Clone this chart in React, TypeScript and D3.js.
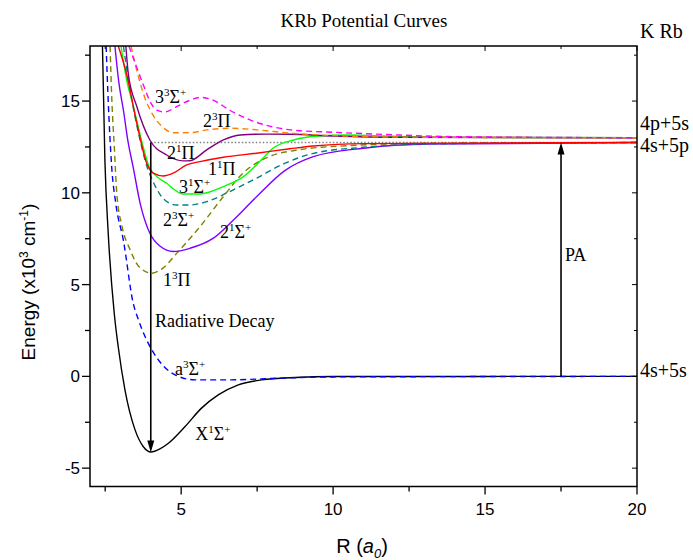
import React from "react";
import * as d3 from "d3";

// potential curves, [R (a0), E (10^3 cm^-1)]
const X1Sigma: [number, number][] = [
  [2.41, 18], [2.49, 11.8], [2.6, 7.8], [2.8, 3.4], [2.93, 1.6], [3.15, -0.73], [3.48, -2.9],
  [3.75, -3.82], [4.01, -4.12], [4.3, -3.95], [4.58, -3.64], [5.13, -2.73], [5.67, -1.73],
  [6.22, -1.01], [6.88, -0.46], [7.65, -0.19], [8.75, -0.06], [10, -0.01], [20, 0],
];
const a3Sigma: [number, number][] = [
  [2.53, 18], [2.6, 15], [2.71, 11.5], [2.85, 9.4], [3.1, 7.4], [3.42, 4.0], [3.59, 3.1],
  [3.86, 2.0], [4.25, 0.9], [4.8, 0.08], [5.46, -0.19], [6.55, -0.19], [8.2, -0.1],
  [10, -0.03], [20, 0],
];
const b3Pi: [number, number][] = [
  [2.66, 18], [2.72, 15], [2.8, 12.5], [2.88, 10], [3.05, 8.2], [3.32, 6.9], [3.6, 6.0],
  [4.03, 5.62], [4.4, 5.9], [4.85, 6.7], [5.62, 8.16], [6.39, 9.8], [7.05, 11.1],
  [7.8, 11.9], [8.9, 12.35], [10.5, 12.57], [13, 12.7], [20, 12.74],
];
const A1Sigma: [number, number][] = [
  [2.82, 18], [2.95, 16], [3.1, 14.5], [3.25, 12.8], [3.42, 11.4], [3.65, 9.43], [3.97, 7.8],
  [4.3, 7.1], [4.74, 6.8], [5.29, 6.98], [6.06, 7.53], [6.72, 8.52], [7.48, 9.79],
  [8.4, 11.2], [9.35, 11.97], [11.0, 12.43], [13.2, 12.66], [20, 12.74],
];
const c3Sigma: [number, number][] = [
  [3.1, 18], [3.3, 15.8], [3.5, 14.0], [3.7, 12.5], [3.9, 11.3], [4.05, 10.7], [4.2, 10.2],
  [4.4, 9.7], [4.85, 9.34], [5.29, 9.34], [5.84, 9.52], [6.6, 10.07], [7.48, 10.8],
  [8.4, 11.6], [9.35, 12.15], [11, 12.48], [13, 12.66], [20, 12.74],
];
const Sigma31: [number, number][] = [
  [3.02, 18], [3.2, 16.2], [3.43, 14.7], [3.75, 12.5], [3.97, 11.34], [4.52, 10.52],
  [5.07, 9.94], [5.62, 9.94], [6.39, 10.34], [7.05, 10.88], [7.7, 11.9], [8.0, 12.4],
  [8.7, 12.88], [9.5, 13.1], [10.5, 13.15], [12, 13.08], [14, 13.02], [20, 13.0],
];
const Pi11: [number, number][] = [
  [2.93, 18], [3.2, 16.5], [3.54, 13.79], [3.87, 11.6], [4.08, 11.07], [4.41, 10.92],
  [4.74, 11.07], [5.18, 11.52], [5.62, 11.7], [6.39, 11.94], [7.48, 12.16], [8.58, 12.4],
  [9.35, 12.55], [11, 12.68], [20, 12.74],
];
const Pi21: [number, number][] = [
  [3.18, 18], [3.26, 16.5], [3.54, 14.7], [3.97, 12.88], [4.52, 12.06], [5.07, 11.74],
  [5.29, 11.75], [5.84, 12.34], [6.39, 12.88], [6.94, 13.15], [7.81, 13.2], [8.58, 13.19],
  [10, 13.1], [12, 13.03], [20, 13.0],
];
const Pi23: [number, number][] = [
  [3.35, 18], [3.55, 16.6], [3.8, 15.2], [4.05, 14.3], [4.35, 13.65], [4.75, 13.27],
  [5.3, 13.28], [5.85, 13.43], [6.6, 13.52], [7.5, 13.43], [8.6, 13.25], [10, 13.12],
  [12, 13.04], [20, 13.0],
];
const Sigma33: [number, number][] = [
  [3.28, 18], [3.5, 17.0], [3.75, 15.9], [4.0, 14.9], [4.2, 14.5], [4.45, 14.4],
  [4.85, 14.7], [5.3, 15.05], [5.65, 15.2], [6.05, 15.05], [6.6, 14.5], [7.3, 13.95],
  [8.0, 13.6], [8.6, 13.43], [10, 13.3], [11.7, 13.18], [14, 13.06], [20, 13.0],
];

// asymptotes
const asymptotes = [
  { name: "4p+5s", e: 13.0 },
  { name: "4s+5p", e: 12.74 },
  { name: "4s+5s", e: 0 },
];
const paArrow = { r: 17.5, from: 0, to: 12.74 };
const decayArrow = { r: 4, from: 12.74, to: -4.15 };

const curves = [
  { data: X1Sigma, color: "#000000", dash: null },
  { data: a3Sigma, color: "#0000ff", dash: "6,4" },
  { data: b3Pi, color: "#808000", dash: "6,4" },
  { data: A1Sigma, color: "#8000ff", dash: null },
  { data: c3Sigma, color: "#008080", dash: "6,4" },
  { data: Sigma31, color: "#00ff00", dash: null },
  { data: Pi11, color: "#ff0000", dash: null },
  { data: Pi21, color: "#800080", dash: null },
  { data: Pi23, color: "#ff8000", dash: "6,4" },
  { data: Sigma33, color: "#ff00ff", dash: "6,4" },
];

// state labels: [n, spin, symbol, sign]
const stateLabels = [
  { t: ["3", "3", "Σ", "+"], r: 4.14, e: 14.9 },
  { t: ["2", "3", "Π", ""], r: 5.72, e: 13.59 },
  { t: ["2", "1", "Π", ""], r: 4.53, e: 11.84 },
  { t: ["1", "1", "Π", ""], r: 5.88, e: 10.97 },
  { t: ["3", "1", "Σ", "+"], r: 4.93, e: 9.99 },
  { t: ["2", "3", "Σ", "+"], r: 4.4, e: 8.2 },
  { t: ["2", "1", "Σ", "+"], r: 6.28, e: 7.54 },
  { t: ["1", "3", "Π", ""], r: 4.4, e: 4.93 },
  { t: ["a", "3", "Σ", "+"], r: 4.8, e: 0.08 },
  { t: ["X", "1", "Σ", "+"], r: 5.46, e: -3.46 },
];

const serif = "'Liberation Serif', 'Times New Roman', serif";
const sans = "'Liberation Sans', Arial, sans-serif";

export default function App() {
  const W = 693, H = 560;
  const left = 90, right = 637, top = 46, bottom = 486.5;
  const x = d3.scaleLinear().domain([2, 20]).range([left, right]);
  const y = d3.scaleLinear().domain([-6, 18]).range([bottom, top]);
  const line = d3
    .line<[number, number]>()
    .x((d) => x(d[0]))
    .y((d) => y(d[1]))
    .curve(d3.curveMonotoneX);

  const xTicks = d3.range(2.5, 20.01, 2.5);
  const yTicks = d3.range(-5, 18, 2.5);

  const arrowHead = (px: number, py: number, dir: number) =>
    `M${px},${py} L${px - 3.5},${py - dir * 12} L${px + 3.5},${py - dir * 12} Z`;

  return (
    <svg width={W} height={H} style={{ position: "absolute", left: 0, top: 0 }}>
      <defs>
        <clipPath id="plot">
          <rect x={left} y={top} width={right - left} height={bottom - top} />
        </clipPath>
      </defs>
      <rect width={W} height={H} fill="#fff" />

      <text x={364} y={27} textAnchor="middle" fontFamily={serif} fontSize={19}>
        KRb Potential Curves
      </text>
      <text x={640} y={38} fontFamily={serif} fontSize={20}>K Rb</text>

      {/* curves */}
      <g clipPath="url(#plot)" fill="none">
        <line
          x1={x(decayArrow.r)} x2={right}
          y1={y(asymptotes[1].e)} y2={y(asymptotes[1].e)}
          stroke="#808080" strokeWidth={1.5} strokeDasharray="1.5,2"
        />
        {curves.map((c, i) => (
          <path
            key={i}
            d={line(c.data) ?? ""}
            stroke={c.color}
            strokeWidth={1.4}
            strokeDasharray={c.dash ?? undefined}
          />
        ))}
      </g>

      {/* arrows */}
      <line x1={x(decayArrow.r)} x2={x(decayArrow.r)} y1={y(decayArrow.from)} y2={y(decayArrow.to) - 8}
        stroke="#000" strokeWidth={1.6} />
      <path d={arrowHead(x(decayArrow.r), y(decayArrow.to), 1)} fill="#000" />
      <line x1={x(paArrow.r)} x2={x(paArrow.r)} y1={y(paArrow.from)} y2={y(paArrow.to) + 8}
        stroke="#000" strokeWidth={1.6} />
      <path d={arrowHead(x(paArrow.r), y(paArrow.to), -1)} fill="#000" />

      <text x={x(4.14)} y={y(2.7)} fontFamily={serif} fontSize={18}>Radiative Decay</text>
      <text x={x(17.63)} y={y(6.29)} fontFamily={serif} fontSize={18}>PA</text>

      {stateLabels.map((l, i) => (
        <text key={i} x={x(l.r)} y={y(l.e)} fontFamily={serif} fontSize={18}>
          <tspan>{l.t[0]}</tspan>
          <tspan dy={-7} fontSize={11}>{l.t[1]}</tspan>
          <tspan dy={7}>{l.t[2]}</tspan>
          {l.t[3] && <tspan dy={-7} fontSize={11}>{l.t[3]}</tspan>}
        </text>
      ))}

      {asymptotes.map((a, i) => (
        <text key={i} x={640} y={y(a.e) + (i === 0 ? -8 : i === 1 ? 9 : 1)} fontFamily={serif} fontSize={20}>
          {a.name}
        </text>
      ))}

      {/* frame */}
      <rect x={left} y={top} width={right - left} height={bottom - top} fill="none" stroke="#000" strokeWidth={1.5} />

      {/* ticks */}
      {xTicks.map((t) => {
        const major = t % 5 === 0;
        return (
          <g key={"x" + t}>
            <line x1={x(t)} x2={x(t)} y1={bottom} y2={bottom + (major ? 8 : 5)} stroke="#000" strokeWidth={1.3} />
            <line x1={x(t)} x2={x(t)} y1={top} y2={top + (major ? 5 : 3)} stroke="#000" strokeWidth={1} />
            {major && (
              <text x={x(t)} y={515} textAnchor="middle" fontFamily={sans} fontSize={17}>
                {t}
              </text>
            )}
          </g>
        );
      })}
      {yTicks.map((t) => {
        const major = t % 5 === 0;
        return (
          <g key={"y" + t}>
            <line x1={left} x2={left - (major ? 8 : 5)} y1={y(t)} y2={y(t)} stroke="#000" strokeWidth={1.3} />
            <line x1={right} x2={right - (major ? 5 : 3)} y1={y(t)} y2={y(t)} stroke="#000" strokeWidth={1} />
            {major && (
              <text x={80} y={y(t)} dy="0.35em" textAnchor="end" fontFamily={sans} fontSize={17}>
                {t}
              </text>
            )}
          </g>
        );
      })}

      {/* axis titles */}
      <text x={362} y={553} textAnchor="middle" fontFamily={sans} fontSize={20}>
        R (<tspan fontStyle="italic">a</tspan>
        <tspan dy={5} fontSize={13} fontStyle="italic">0</tspan>
        <tspan dy={-5}>)</tspan>
      </text>
      <text
        transform={`translate(35,282) rotate(-90)`}
        textAnchor="middle"
        fontFamily={sans}
        fontSize={19}
      >
        Energy (x10<tspan dy={-7} fontSize={12}>3</tspan>
        <tspan dy={7}> cm</tspan>
        <tspan dy={-7} fontSize={12}>-1</tspan>
        <tspan dy={7}>)</tspan>
      </text>
    </svg>
  );
}
